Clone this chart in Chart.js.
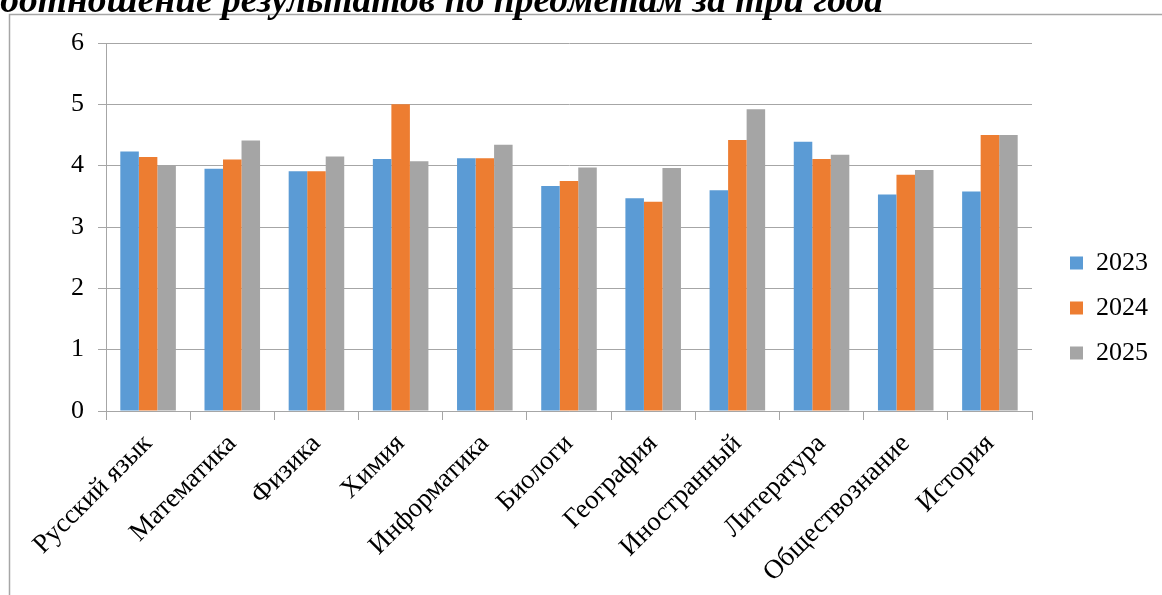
<!DOCTYPE html>
<html lang="ru">
<head>
<meta charset="utf-8">
<title>Соотношение результатов по предметам за три года</title>
<script src="https://cdn.jsdelivr.net/npm/chart.js@4.4.1/dist/chart.umd.min.js"></script>
<style>
  html, body { margin: 0; padding: 0; background: #fff; }
  #holder { width: 1162px; height: 595px; position: relative; }
</style>
</head>
<body>
<div id="holder"><canvas id="grafik"></canvas></div>
<script>
// Данные диаграммы (средние баллы по предметам)
const predmety = ['Русский язык', 'Математика', 'Физика', 'Химия', 'Информатика', 'Биологи',
                  'География', 'Иностранный', 'Литература', 'Обществознание', 'История'];
const god2023 = [4.23, 3.95, 3.91, 4.11, 4.12, 3.67, 3.47, 3.60, 4.39, 3.53, 3.58];
const god2024 = [4.14, 4.10, 3.91, 5.00, 4.12, 3.75, 3.41, 4.42, 4.11, 3.85, 4.50];
const god2025 = [4.00, 4.41, 4.15, 4.07, 4.34, 3.97, 3.96, 4.92, 4.18, 3.93, 4.50];
const metkiY = [0, 1, 2, 3, 4, 5, 6];
const zagolovok = 'Соотношение результатов по предметам за три года';

const shrift = "'Liberation Serif', 'Times New Roman', serif";
const seryi = '#a6a6a6';

// Рамка и заголовок (заголовок обрезан сверху, как в оригинале)
const ramka = {
    id: 'ramka',
    beforeDraw(chart) {
        const ctx = chart.ctx;
        ctx.save();
        ctx.strokeStyle = seryi;
        ctx.lineWidth = 1.5;
        ctx.beginPath();
        ctx.moveTo(9.5, chart.height + 2);
        ctx.lineTo(9.5, 14.5);
        ctx.lineTo(chart.width + 2, 14.5);
        ctx.stroke();
        ctx.restore();
    },
    afterDraw(chart) {
        const ctx = chart.ctx;
        ctx.save();
        ctx.font = 'bold italic 37.5px ' + shrift;
        ctx.fillStyle = '#000';
        ctx.textBaseline = 'alphabetic';
        const sdvig = ctx.measureText(zagolovok.charAt(0)).width;
        ctx.fillText(zagolovok, -sdvig, 12);
        ctx.restore();
    },
    // легенда стоит чуть правее и выше, чем её ставит Chart.js
    afterLayout(chart) {
        chart.legend.left += 19;
        chart.legend.right += 19;
        chart.legend.top -= 11;
        chart.legend.bottom -= 11;
    }
};

const ctx = document.getElementById('grafik').getContext('2d');
new Chart(ctx, {
    type: 'bar',
    data: {
        labels: predmety,
        datasets: [
            { label: '2023', data: god2023, backgroundColor: '#5b9bd5' },
            { label: '2024', data: god2024, backgroundColor: '#ed7d31' },
            { label: '2025', data: god2025, backgroundColor: '#a5a5a5' }
        ]
    },
    options: {
        responsive: true,
        maintainAspectRatio: false,
        animation: false,
        layout: { padding: { top: 43, right: 23, bottom: 0, left: 10 } },
        datasets: { bar: { categoryPercentage: 0.66, barPercentage: 1.0 } },
        scales: {
            x: {
                grid: { drawOnChartArea: false, tickLength: 9, color: seryi, offset: true },
                border: { color: seryi, width: 1 },
                ticks: {
                    font: { family: shrift, size: 27 }, color: '#000',
                    minRotation: 45, maxRotation: 45, autoSkip: false, padding: 8
                },
                afterFit(scale) { scale.height = 184; }
            },
            y: {
                min: 0, max: 6,
                afterBuildTicks(scale) { scale.ticks = metkiY.map(v => ({ value: v })); },
                ticks: { font: { family: shrift, size: 26 }, color: '#000', padding: 14 },
                grid: { color: seryi, tickLength: 8 },
                border: { color: seryi },
                afterFit(scale) { scale.width = 96; }
            }
        },
        plugins: {
            legend: {
                position: 'right',
                labels: {
                    boxWidth: 13, boxHeight: 13, padding: 19,
                    font: { family: shrift, size: 26 }, color: '#000'
                }
            },
            tooltip: { enabled: false }
        }
    },
    plugins: [ramka]
});
</script>
</body>
</html>
